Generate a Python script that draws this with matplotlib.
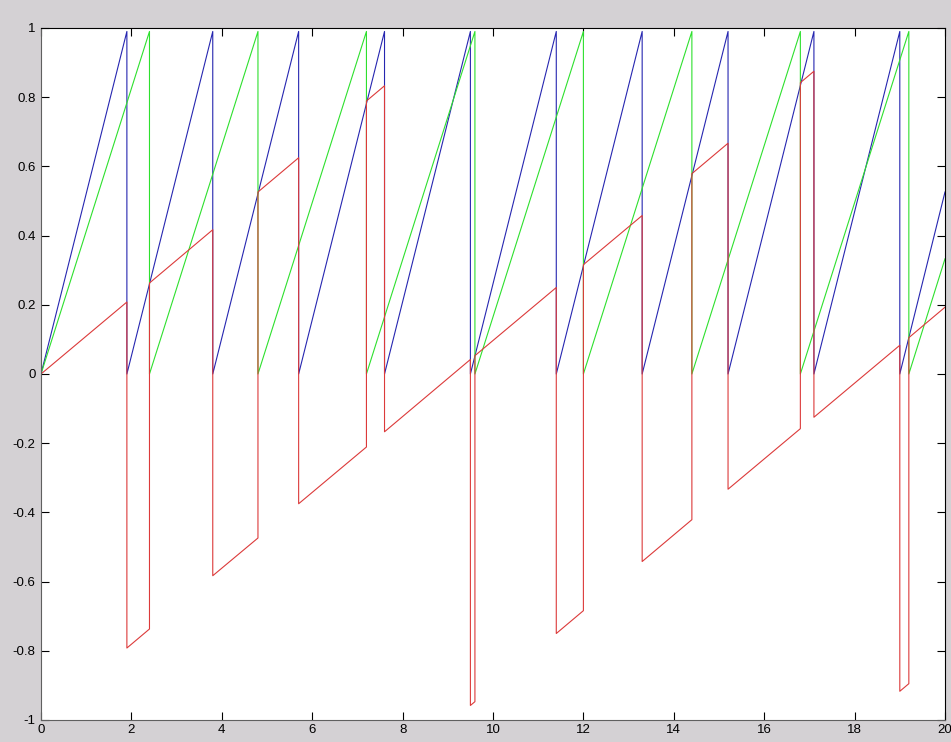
import matplotlib
matplotlib.use("Agg")
import matplotlib.pyplot as plt

# Blue sawtooth vertices
blue_x = [0, 1.9, 1.9, 3.8, 3.8, 5.7, 5.7, 7.6, 7.6, 9.5, 9.5, 11.4, 11.4,
          13.3, 13.3, 15.2, 15.2, 17.1, 17.1, 19.0, 19.0, 20]
blue_y = [0, 0.99, 0, 0.99, 0, 0.99, 0, 0.99, 0, 0.99, 0, 0.99, 0,
          0.99, 0, 0.99, 0, 0.99, 0, 0.99, 0, 0.526]

# Green sawtooth vertices
green_x = [0, 2.4, 2.4, 4.8, 4.8, 7.2, 7.2, 9.6, 9.6, 12.0, 12.0, 14.4, 14.4,
           16.8, 16.8, 19.2, 19.2, 20]
green_y = [0, 0.99, 0, 0.99, 0, 0.99, 0, 0.99, 0, 0.99, 0, 0.99, 0,
           0.99, 0, 0.99, 0, 0.333]

# Red series vertices
red_x = [0, 1.9, 1.9, 2.4, 2.4, 3.8, 3.8, 4.8, 4.8, 5.7, 5.7, 7.2, 7.2,
         7.6, 7.6, 9.5, 9.5, 9.6, 9.6, 11.4, 11.4, 12.0, 12.0, 13.3, 13.3,
         14.4, 14.4, 15.2, 15.2, 16.8, 16.8, 17.1, 17.1, 19.0, 19.0,
         19.2, 19.2, 20]
red_y = [0, 0.208, -0.792, -0.737, 0.263, 0.417, -0.583, -0.474, 0.526,
         0.625, -0.375, -0.211, 0.789, 0.833, -0.167, 0.042, -0.958,
         -0.947, 0.053, 0.25, -0.75, -0.684, 0.316, 0.458, -0.542,
         -0.421, 0.579, 0.667, -0.333, -0.158, 0.842, 0.875, -0.125,
         0.083, -0.917, -0.895, 0.105, 0.193]

x_ticks = [0, 2, 4, 6, 8, 10, 12, 14, 16, 18, 20]
x_labels = ['0', '2', '4', '6', '8', '10', '12', '14', '16', '18', '20']
y_ticks = [-1, -0.8, -0.6, -0.4, -0.2, 0, 0.2, 0.4, 0.6, 0.8, 1]
y_labels = ['-1', '-0.8', '-0.6', '-0.4', '-0.2', '0', '0.2', '0.4', '0.6', '0.8', '1']

plt.rcParams['font.family'] = ['Liberation Sans', 'DejaVu Sans']

fig = plt.figure(figsize=(9.51, 7.42), dpi=100, facecolor='#d4d1d4')
ax = fig.add_axes([41/951, 22/742, (945-41)/951, (720-28)/742])
ax.set_facecolor('white')

ax.plot(blue_x, blue_y, color='#2626b0', lw=0.8)
ax.plot(green_x, green_y, color='#2ee02e', lw=0.8)
ax.plot(red_x, red_y, color='#dc3a3a', lw=0.8)

ax.set_xlim(0, 20)
ax.set_ylim(-1, 1)
ax.set_xticks(x_ticks)
ax.set_xticklabels(x_labels)
ax.set_yticks(y_ticks)
ax.set_yticklabels(y_labels)
ax.tick_params(direction='in', length=6, width=0.8, top=True, right=True,
               labelsize=9.5, colors='black')
ax.tick_params(axis='x', pad=3)
ax.tick_params(axis='y', pad=4)
for s in ax.spines.values():
    s.set_linewidth(0.8)
    s.set_color('black')
ax.spines['left'].set_color('#606060')
ax.spines['bottom'].set_color('#606060')

fig.savefig('out.png', dpi=100, facecolor=fig.get_facecolor())
